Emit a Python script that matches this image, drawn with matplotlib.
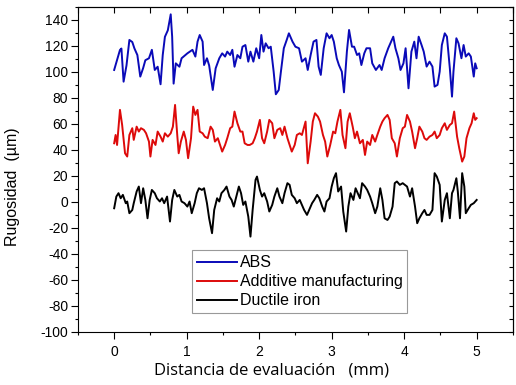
import numpy as np
import matplotlib
matplotlib.use("Agg")
import matplotlib.pyplot as plt
from matplotlib.ticker import MultipleLocator

# ABS profile (mm, um)
abs_x = [0.00, 0.08, 0.10, 0.13, 0.17, 0.21, 0.25, 0.28, 0.32, 0.36, 0.40, 0.43, 0.48, 0.52, 0.56, 0.60,
         0.64, 0.67, 0.70, 0.74, 0.78, 0.80, 0.82, 0.85, 0.90, 0.93, 1.01, 1.08, 1.12, 1.15, 1.18, 1.22,
         1.24, 1.28, 1.31, 1.36, 1.40, 1.45, 1.49, 1.53, 1.56, 1.60, 1.63, 1.66, 1.70, 1.74, 1.77, 1.81,
         1.85, 1.88, 1.92, 1.96, 2.00, 2.03, 2.06, 2.09, 2.13, 2.16, 2.20, 2.23, 2.27, 2.30, 2.34, 2.38,
         2.41, 2.46, 2.50, 2.55, 2.59, 2.64, 2.67, 2.71, 2.75, 2.79, 2.82, 2.85, 2.89, 2.93, 2.97, 3.00,
         3.03, 3.07, 3.10, 3.14, 3.17, 3.21, 3.24, 3.28, 3.31, 3.35, 3.38, 3.41, 3.45, 3.48, 3.53, 3.56,
         3.61, 3.66, 3.69, 3.73, 3.78, 3.82, 3.85, 3.88, 3.92, 3.95, 3.99, 4.02, 4.06, 4.10, 4.14, 4.17,
         4.20, 4.24, 4.27, 4.31, 4.35, 4.39, 4.42, 4.46, 4.49, 4.52, 4.56, 4.59, 4.63, 4.66, 4.68, 4.72,
         4.75, 4.79, 4.82, 4.85, 4.89, 4.92, 4.96, 4.98, 5.00]
abs_y = [101.5, 116.9, 118, 92.5, 105, 124.6, 123, 118, 113, 96.4, 103, 109, 110.5, 117, 101.5, 104,
         90.5, 113, 127, 132, 144.3, 127, 91, 106.6, 104, 110.5, 114.3, 117, 111.8, 123.3, 128.4, 123.3,
         105.3, 110.5, 105, 86.1, 102.8, 110.5, 114.3, 111.8, 115.6, 113, 117, 104, 113, 110.5, 119.4, 120.7,
         107.9, 115.6, 107.9, 118.2, 110.5, 128.4, 115.6, 122, 118.2, 119.4, 100.2, 82.8, 86.1, 100.2, 118.2, 124.6,
         129.7, 123.3, 119.4, 118.2, 107.9, 110.5, 101.5, 113, 123.3, 124.6, 104.1, 97.7, 118.2, 129.7, 125.9, 128.4,
         123.3, 110.5, 105.3, 100.2, 84.3, 115.6, 132.3, 119.4, 119.4, 113, 114.3, 105.3, 114.3, 118.2, 118.2, 106.6,
         101.5, 105.3, 101.5, 110.5, 118.2, 123.3, 127.1, 118.2, 110.5, 101.5, 106.6, 118.2, 87.4, 115.6, 123.3, 110.5,
         127.1, 120.7, 115.6, 104.1, 107.9, 104.1, 88.7, 90, 100.2, 120.7, 129.7, 127.1, 102.8, 81, 100.2, 125.9,
         122, 110.5, 120.7, 111.8, 114.3, 111.8, 96.4, 106.6, 102.8]

# Additive manufacturing profile
am_x = [0.00, 0.02, 0.04, 0.08, 0.11, 0.15, 0.18, 0.21, 0.25, 0.27, 0.31, 0.34, 0.37, 0.41, 0.44, 0.48,
        0.50, 0.53, 0.57, 0.60, 0.64, 0.67, 0.70, 0.74, 0.78, 0.81, 0.84, 0.87, 0.89, 0.92, 0.96, 0.99,
        1.02, 1.06, 1.09, 1.12, 1.15, 1.18, 1.22, 1.25, 1.29, 1.33, 1.36, 1.39, 1.43, 1.46, 1.49, 1.53,
        1.56, 1.60, 1.63, 1.66, 1.70, 1.74, 1.77, 1.80, 1.84, 1.87, 1.91, 1.94, 1.97, 2.01, 2.04, 2.07,
        2.11, 2.14, 2.18, 2.21, 2.25, 2.29, 2.32, 2.35, 2.39, 2.42, 2.45, 2.49, 2.52, 2.56, 2.59, 2.64,
        2.67, 2.71, 2.74, 2.77, 2.81, 2.84, 2.88, 2.91, 2.94, 2.98, 3.02, 3.05, 3.08, 3.12, 3.15, 3.19,
        3.22, 3.25, 3.29, 3.32, 3.35, 3.39, 3.43, 3.46, 3.49, 3.53, 3.56, 3.60, 3.63, 3.67, 3.70, 3.73,
        3.77, 3.80, 3.83, 3.87, 3.90, 3.94, 3.98, 4.01, 4.04, 4.08, 4.11, 4.15, 4.18, 4.21, 4.25, 4.28,
        4.31, 4.35, 4.39, 4.42, 4.45, 4.49, 4.52, 4.56, 4.59, 4.63, 4.66, 4.69, 4.73, 4.76, 4.80, 4.83,
        4.86, 4.90, 4.93, 4.96, 4.98, 5.00]
am_y = [45.1, 51.5, 43.8, 70.8, 59.2, 37.4, 34.9, 51.5, 56.7, 47.7, 57.9, 54.1, 56.7, 55.4, 52.8, 46.4,
        34.9, 47.7, 43.8, 54.1, 50.2, 46.4, 52.8, 50.2, 52.8, 57.9, 74.6, 51.5, 37.4, 46.4, 54.1, 47.7,
        33.6, 49, 73.3, 66.9, 70.8, 54.1, 52.8, 50.2, 49, 57.9, 55.4, 46.4, 49, 43.8, 38.7, 43.8,
        49, 56.7, 57.9, 69.5, 60.5, 54.1, 54.1, 45.1, 43.8, 43.8, 45.1, 49, 54.1, 63.1, 49, 45.1,
        54.1, 63.1, 60.5, 49, 55.4, 56.7, 51.5, 57.9, 49, 43.8, 38.7, 43.8, 51.5, 52.8, 51.5, 61.8,
        29.7, 46.4, 61.8, 68.2, 65.6, 61.8, 51.5, 46.4, 34.9, 43.8, 54.1, 52.8, 61.8, 70.8, 51.5, 41.3,
        61.8, 68.2, 57.9, 49, 54.1, 45.1, 47.7, 36.1, 46.4, 43.8, 51.5, 46.4, 51.5, 57.9, 61.8, 64.4,
        66.9, 63.1, 49, 45.1, 34.9, 49, 56.7, 57.9, 66.9, 61.8, 54.1, 41.3, 49, 57.9, 54.1, 49,
        47.7, 50.2, 51.5, 54.1, 49, 51.5, 56.7, 60.5, 55.4, 59.2, 60.5, 69.5, 50.2, 41.3, 31, 34.9,
        49, 56.7, 60.5, 68.2, 63.1, 64.4]

# Ductile iron profile
di_x = [0.00, 0.03, 0.06, 0.09, 0.12, 0.16, 0.18, 0.21, 0.25, 0.27, 0.31, 0.34, 0.37, 0.40, 0.43, 0.46,
        0.49, 0.52, 0.56, 0.59, 0.63, 0.66, 0.69, 0.73, 0.77, 0.80, 0.83, 0.87, 0.90, 0.93, 0.97, 1.01,
        1.04, 1.07, 1.11, 1.14, 1.17, 1.21, 1.24, 1.28, 1.31, 1.35, 1.38, 1.42, 1.45, 1.48, 1.52, 1.55,
        1.59, 1.62, 1.65, 1.69, 1.72, 1.75, 1.78, 1.81, 1.85, 1.88, 1.91, 1.95, 1.97, 2.01, 2.04, 2.07,
        2.11, 2.14, 2.18, 2.21, 2.25, 2.28, 2.32, 2.35, 2.39, 2.42, 2.45, 2.49, 2.52, 2.56, 2.59, 2.62,
        2.66, 2.69, 2.73, 2.76, 2.80, 2.83, 2.87, 2.90, 2.93, 2.97, 3.00, 3.03, 3.06, 3.09, 3.13, 3.16,
        3.20, 3.23, 3.26, 3.30, 3.33, 3.36, 3.39, 3.42, 3.46, 3.49, 3.53, 3.56, 3.60, 3.63, 3.67, 3.70,
        3.73, 3.77, 3.80, 3.84, 3.87, 3.90, 3.94, 3.98, 4.01, 4.04, 4.08, 4.11, 4.15, 4.18, 4.21, 4.25,
        4.28, 4.31, 4.35, 4.39, 4.42, 4.45, 4.49, 4.52, 4.56, 4.59, 4.63, 4.66, 4.68, 4.72, 4.74, 4.77,
        4.80, 4.83, 4.85, 4.89, 4.92, 4.96, 5.00]
di_y = [-4.9, 4.1, 6.7, 2.8, 5.4, -1, 0.3, -8.7, -6.2, -1, 8, 11.8, -1, 10.5, 1.5, -12.6,
        1.5, 9.2, 6.7, 2.8, 0.3, 2.8, -1, 4.1, -15.1, 1.5, 9.2, 4.1, 5.4, 0.3, -1, -3.6,
        0.3, -8.7, -1, 6.7, 10.5, 9.2, 10.5, -1, -12.6, -24.1, -6.2, 2.8, 0.3, 6.7, 9.2, 11.8,
        4.1, 1.5, -3.6, 5.4, 11.8, 6.7, -2.3, 0.3, -11.3, -26.7, -6.2, 16.9, 19.5, 9.2, 4.1, 6.7,
        0.3, -7.4, -2.3, 4.1, 10.5, 4.1, -1, 6.7, 14.4, 13.1, 5.4, 2.8, -1, 1.5, -2.3, -6.2,
        -10, -6.2, -1, 1.5, 5.4, 2.8, -3.6, -7.4, 0.3, 2.8, 11.8, 18.2, 22.1, 8, 11.8, -7.4,
        -22.8, -3.6, 6.7, 1.5, 10.5, 6.7, 2.8, 14.4, 11.8, 9.2, 4.1, -1, -8.7, -3.6, 10.5, 1.5,
        -12.6, -13.9, -11.3, -3.6, 14.4, 15.7, 13.1, 14.4, 13.1, 11.8, 4.1, 10.5, -3.6, -16.4, -12.6, -8.7,
        -6.2, -10, -10, -6.2, 22.1, 19.5, 13.1, -15.1, 1.5, 6.7, -12.6, 6.7, 9.2, 18.2, 8, -12.6,
        22.1, 11.8, -8.7, -4.9, -2.3, -1, 1.5]

labels = ["ABS", "Additive manufacturing", "Ductile iron"]
colors = ["#0a0ab8", "#dd0a0a", "black"]

plt.rcParams["font.family"] = ["Liberation Sans", "DejaVu Sans"]
plt.rcParams["axes.unicode_minus"] = False

fig = plt.figure(figsize=(5.16, 3.85), dpi=100)
ax = fig.add_axes([0.151, 0.138, 0.843, 0.844])

for x, y, lab, c in zip([abs_x, am_x, di_x], [abs_y, am_y, di_y], labels, colors):
    ax.plot(x, y, color=c, lw=1.4, label=lab)

ax.set_xlim(-0.5, 5.5)
ax.set_ylim(-100, 150)
ax.xaxis.set_major_locator(MultipleLocator(1))
ax.xaxis.set_minor_locator(MultipleLocator(0.5))
ax.set_yticks(np.arange(-100, 141, 20))
ax.yaxis.set_minor_locator(MultipleLocator(10))
ax.tick_params(which="major", direction="out", length=5, width=0.8, labelsize=10, pad=2)
ax.tick_params(which="minor", direction="out", length=2.5, width=0.8)
ax.tick_params(axis="x", which="major", pad=4.5)

# inward ticks on top and right spines
top = ax.secondary_xaxis("top")
top.xaxis.set_major_locator(MultipleLocator(0.5))
top.tick_params(direction="in", length=4, width=0.8, labeltop=False)
right = ax.secondary_yaxis("right")
right.yaxis.set_major_locator(MultipleLocator(10))
right.tick_params(direction="in", length=3, width=0.8, labelright=False)

ax.set_xlabel("Distancia de evaluación   (mm)", fontsize=12, family=["Open Sans", "DejaVu Sans"])
ax.xaxis.set_label_coords(0.446, -0.095)
ax.set_ylabel("Rugosidad  (µm)", fontsize=11.5)
ax.yaxis.set_label_coords(-0.133, 0.446)

leg = ax.legend(loc="lower left", bbox_to_anchor=(0.262, 0.058), borderaxespad=0,
                fancybox=False, edgecolor="#999999", framealpha=1, fontsize=11.5,
                handlelength=2.5, handletextpad=0.2, labelspacing=0.25, borderpad=0.3)
leg.get_frame().set_linewidth(0.8)

fig.savefig("out.png", dpi=100)
